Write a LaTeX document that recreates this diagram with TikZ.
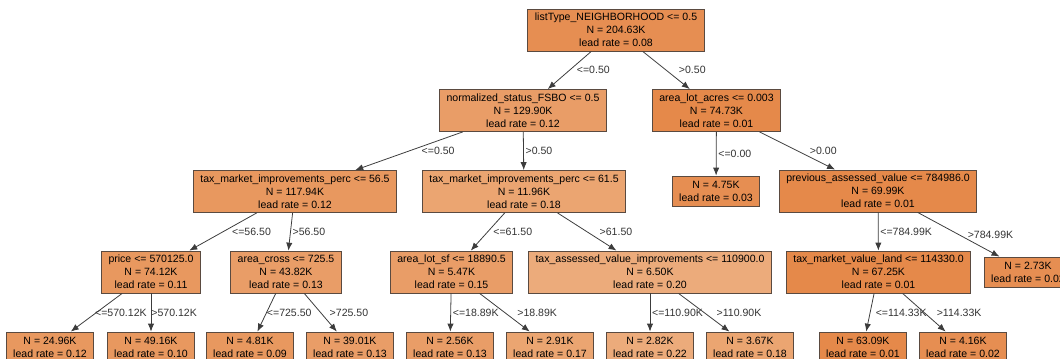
\documentclass[tikz,border=0pt]{standalone}
\usepackage{fontspec}
\setmainfont{Liberation Sans}
\usetikzlibrary{arrows, arrows.meta}
\definecolor{boxline}{HTML}{5A4A40}
\definecolor{edgegray}{HTML}{3C3C3C}
\definecolor{rateA}{HTML}{E5894A}
\definecolor{rateB}{HTML}{E68E52}
\definecolor{rateC}{HTML}{E8985F}
\definecolor{rateD}{HTML}{E99D67}
\definecolor{rateE}{HTML}{EBA571}
\definecolor{rateF}{HTML}{ECAB7B}
\tikzset{->, >={Latex[length=4.5pt,width=3.6pt]}, x=0.02cm, y=-0.02cm,
  box/.style={rectangle, draw=boxline, line width=0.5pt, align=center, inner xsep=4pt, inner ysep=1.5pt,
    minimum height=0.84cm, font=\fontsize{6}{7.4}\selectfont},
  leaf/.style={box, minimum height=0.6cm, minimum width=1.74cm},
  lbl/.style={anchor=west, inner sep=1pt, font=\fontsize{6}{7.4}\selectfont, text=black!80},
  lblr/.style={lbl, xshift=6pt}}

\begin{document}
\begin{tikzpicture}
    \useasboundingbox (0,0) rectangle (1060,358);
    \clip (0,0) rectangle (1060,358);
    % split nodes
    \node[box, fill=rateB] (root) at (616,30) {listType\_NEIGHBORHOOD <= 0.5\\N = 204.63K\\lead rate = 0.08};
    \node[box, fill=rateD] (fsbo) at (523,110.5) {normalized\_status\_FSBO <= 0.5\\N = 129.90K\\lead rate = 0.12};
    \node[box, fill=rateA] (acres) at (716.5,110.5) {area\_lot\_acres <= 0.003\\N = 74.73K\\lead rate = 0.01};
    \node[box, fill=rateC] (percA) at (295,191.5) {tax\_market\_improvements\_perc <= 56.5\\N = 117.94K\\lead rate = 0.12};
    \node[box, fill=rateE] (percB) at (524,191.5) {tax\_market\_improvements\_perc <= 61.5\\N = 11.96K\\lead rate = 0.18};
    \node[box, fill=rateA] (prev) at (878,191) {previous\_assessed\_value <= 784986.0\\N = 69.99K\\lead rate = 0.01};
    \node[box, fill=rateC] (price) at (151,272) {price <= 570125.0\\N = 74.12K\\lead rate = 0.11};
    \node[box, fill=rateD] (cross) at (286,272) {area\_cross <= 725.5\\N = 43.82K\\lead rate = 0.13};
    \node[box, fill=rateD] (lotsf) at (451.5,272) {area\_lot\_sf <= 18890.5\\N = 5.47K\\lead rate = 0.15};
    \node[box, fill=rateF] (assessed) at (650,272) {tax\_assessed\_value\_improvements <= 110900.0\\N = 6.50K\\lead rate = 0.20};
    \node[box, fill=rateA] (land) at (878.5,272) {tax\_market\_value\_land <= 114330.0\\N = 67.25K\\lead rate = 0.01};
    % leaves
    \node[leaf, fill=rateB] (leafAcres) at (716,191) {N = 4.75K\\lead rate = 0.03};
    \node[leaf, fill=rateB] (leafPrev) at (1028,272) {N = 2.73K\\lead rate = 0.02};
    \node[leaf, fill=rateC] (leafA) at (50,347) {N = 24.96K\\lead rate = 0.12};
    \node[leaf, fill=rateC] (leafB) at (151,347) {N = 49.16K\\lead rate = 0.10};
    \node[leaf, fill=rateC] (leafC) at (250,347) {N = 4.81K\\lead rate = 0.09};
    \node[leaf, fill=rateD] (leafD) at (350,347) {N = 39.01K\\lead rate = 0.13};
    \node[leaf, fill=rateD] (leafE) at (450,347) {N = 2.56K\\lead rate = 0.13};
    \node[leaf, fill=rateE] (leafF) at (550,347) {N = 2.91K\\lead rate = 0.17};
    \node[leaf, fill=rateF] (leafG) at (650,347) {N = 2.82K\\lead rate = 0.22};
    \node[leaf, fill=rateE] (leafH) at (750,347) {N = 3.67K\\lead rate = 0.18};
    \node[leaf, fill=rateA] (leafI) at (863,347) {N = 63.09K\\lead rate = 0.01};
    \node[leaf, fill=rateB] (leafJ) at (963,347) {N = 4.16K\\lead rate = 0.02};
    % branches
    \draw[edgegray, line width=0.45pt]
        (root) edge node[lbl, xshift=3pt]{<=0.50} (fsbo)
        (root) edge node[lblr]{>0.50} (acres)
        (fsbo) edge node[lblr]{<=0.50} (percA)
        (fsbo) edge node[lbl]{>0.50} (percB)
        (acres) edge node[lbl]{<=0.00} (leafAcres)
        (acres) edge node[lblr]{>0.00} (prev)
        (percA) edge node[lbl, xshift=4pt]{<=56.50} (price)
        (percA) edge node[lbl]{>56.50} (cross)
        (percB) edge node[lbl, xshift=2pt]{<=61.50} (lotsf)
        (percB) edge node[lblr]{>61.50} (assessed)
        (prev) edge node[lbl]{<=784.99K} (land)
        (prev) edge node[lbl, xshift=4pt]{>784.99K} (leafPrev)
        (price) edge node[lbl, xshift=-2pt]{<=570.12K} (leafA)
        (price) edge node[lbl, xshift=-1pt]{>570.12K} (leafB)
        (cross) edge node[lbl, xshift=-1pt]{<=725.50} (leafC)
        (cross) edge node[lbl, xshift=4pt]{>725.50} (leafD)
        (lotsf) edge node[lbl]{<=18.89K} (leafE)
        (lotsf) edge node[lblr]{>18.89K} (leafF)
        (assessed) edge node[lbl]{<=110.90K} (leafG)
        (assessed) edge node[lblr]{>110.90K} (leafH)
        (land) edge node[lbl, xshift=2pt]{<=114.33K} (leafI)
        (land) edge node[lblr]{>114.33K} (leafJ);
\end{tikzpicture}
\end{document}
